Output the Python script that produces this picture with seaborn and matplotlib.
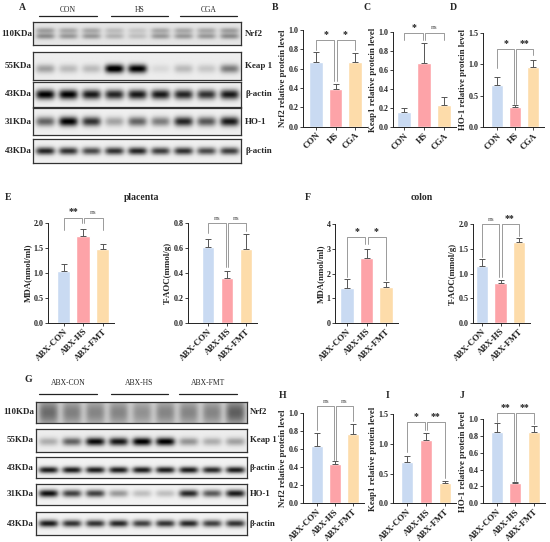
import numpy as np
import pandas as pd
import matplotlib.pyplot as plt
import seaborn as sns

W, H = 550, 542

# ---- bar chart data (mean, SEM) ----
top_groups = ['CON', 'HS', 'CGA']
abx_groups = ['ABX-CON', 'ABX-HS', 'ABX-FMT']

b_nrf2 = [0.67, 0.385, 0.67]
b_nrf2_err = [0.10, 0.055, 0.095]
c_keap1 = [0.157, 0.669, 0.233]
c_keap1_err = [0.05, 0.21, 0.08]
d_ho1 = [0.67, 0.317, 0.96]
d_ho1_err = [0.13, 0.033, 0.107]

e_mda = [1.05, 1.75, 1.49]
e_mda_err = [0.13, 0.13, 0.09]
e_taoc = [0.61, 0.36, 0.59]
e_taoc_err = [0.06, 0.06, 0.12]
f_mda = [1.40, 2.64, 1.44]
f_mda_err = [0.37, 0.34, 0.23]
f_taoc = [1.15, 0.80, 1.64]
f_taoc_err = [0.15, 0.07, 0.07]

h_nrf2 = [0.64, 0.437, 0.767]
h_nrf2_err = [0.145, 0.037, 0.113]
i_keap1 = [0.70, 1.06, 0.336]
i_keap1_err = [0.10, 0.12, 0.044]
j_ho1 = [0.85, 0.237, 0.84]
j_ho1_err = [0.10, 0.02, 0.077]

# significance brackets: (left bar, right bar, height, left leg end, right leg end, label)
b_sig = [(0, 1, 0.90, 0.79, 0.47, '*'), (1, 2, 0.90, 0.47, 0.79, '*')]
c_sig = [(0, 1, 0.99, 0.91, 0.91, '*'), (1, 2, 0.99, 0.91, 0.91, 'ns')]
d_sig = [(0, 1, 1.24, 0.94, 0.37, '*'), (1, 2, 1.24, 0.37, 1.15, '**')]
e_mda_sig = [(0, 1, 2.11, 1.86, 2.0, '**'), (1, 2, 2.11, 2.0, 1.86, 'ns')]
e_taoc_sig = [(0, 1, 0.80, 0.72, 0.45, 'ns'), (1, 2, 0.80, 0.45, 0.74, 'ns')]
f_mda_sig = [(0, 1, 3.46, 1.85, 3.2, '*'), (1, 2, 3.46, 3.2, 1.75, '*')]
f_taoc_sig = [(0, 1, 2.0, 1.34, 0.92, 'ns'), (1, 2, 2.0, 0.92, 1.75, '**')]
h_sig = [(0, 1, 1.08, 0.81, 0.48, 'ns'), (1, 2, 1.08, 0.48, 0.91, 'ns')]
i_sig = [(0, 1, 1.36, 0.87, 1.23, '*'), (1, 2, 1.36, 1.23, 0.42, '**')]
j_sig = [(0, 1, 1.067, 0.97, 0.27, '**'), (1, 2, 1.067, 0.27, 0.94, '**')]

# ---- western blot band intensities (9 lanes) ----
a_rows = ['Nrf2', 'Keap 1', 'β-actin', 'HO-1', 'β-actin']
a_kda = ['110KDa', '55KDa', '43KDa', '31KDa', '43KDa']
a_nrf2 = [0.35, 0.30, 0.30, 0.20, 0.15, 0.30, 0.30, 0.30, 0.35]
a_keap1 = [0.30, 0.20, 0.20, 1.00, 0.95, 0.08, 0.20, 0.15, 0.45]
a_actin1 = [0.95, 0.95, 0.85, 0.80, 0.85, 0.85, 0.80, 0.75, 0.85]
a_ho1 = [0.55, 0.95, 0.75, 0.30, 0.55, 0.45, 0.80, 0.60, 0.85]
a_actin2 = [0.80, 0.75, 0.65, 0.75, 0.80, 0.70, 0.75, 0.65, 0.70]

g_nrf2 = [0.40, 0.32, 0.30, 0.30, 0.25, 0.30, 0.30, 0.30, 0.45]
g_keap1 = [0.25, 0.55, 0.90, 0.85, 0.95, 0.95, 0.35, 0.25, 0.30]
g_actin1 = [0.85, 0.85, 0.85, 0.85, 0.85, 0.85, 0.85, 0.80, 0.85]
g_ho1 = [0.90, 0.70, 0.70, 0.35, 0.20, 0.20, 0.80, 0.60, 0.85]
g_actin2 = [0.85, 0.75, 0.75, 0.80, 0.70, 0.75, 0.80, 0.70, 0.75]

palette = ['#c9daf2', '#fda3a8', '#fddcaa']
SERIF = ['Liberation Serif', 'DejaVu Serif']

sns.set_style('ticks')
plt.rcParams['font.family'] = SERIF
plt.rcParams['font.weight'] = 'bold'

fig = plt.figure(figsize=(W / 100, H / 100), dpi=100)


def px_axes(l, t, r, b, **kw):
    return fig.add_axes([l / W, 1 - b / H, (r - l) / W, (b - t) / H], **kw)


# overlay axes in pixel coordinates for labels and decorations
ov = fig.add_axes([0, 0, 1, 1], zorder=-1)
ov.set_xlim(0, W)
ov.set_ylim(H, 0)
ov.axis('off')


def bar_panel(groups, vals, errs, sig, ylabel, ax_x, c0, sp, ytop, ybot,
              ymax, step, fmt):
    xl = -(c0 - ax_x) / sp
    xr = 2.6
    ax = px_axes(ax_x, ytop, ax_x + (xr - xl) * sp, ybot)
    ax.patch.set_alpha(0)
    df = pd.DataFrame({'group': groups, 'value': vals})
    sns.barplot(data=df, x='group', y='value', hue='group', palette=palette,
                legend=False, width=0.67, saturation=1, ax=ax)
    ax.errorbar(range(3), vals, yerr=[np.zeros(3), errs], fmt='none',
                ecolor='#555555', elinewidth=0.7, capsize=2.2, capthick=0.7)
    ax.set_xlim(xl, xr)
    ax.set_ylim(0, ymax)
    ticks = np.arange(0, ymax + step / 2, step)
    ax.set_yticks(ticks)
    ax.set_yticklabels([fmt % t for t in ticks], fontsize=5.8, fontweight='bold')
    ax.set_xticks(range(3))
    ax.set_xticklabels(groups, rotation=45, ha='right', rotation_mode='anchor',
                       fontsize=6.4, fontweight='bold')
    ax.set_xlabel('')
    ax.set_ylabel(ylabel, fontsize=6.4, fontweight='bold', labelpad=1)
    sns.despine(ax=ax)
    for s in ['left', 'bottom']:
        ax.spines[s].set_linewidth(0.7)
        ax.spines[s].set_color('#222222')
    ax.tick_params(length=2, width=0.6, pad=1.2, colors='#222222')
    for i, j, h, yi, yj, txt in sig:
        xi = i + 0.06 if i == 1 else i
        xj = j - 0.06 if j == 1 else j
        ax.plot([xi, xi, xj, xj], [yi, h, h, yj], color='#8a8a8a', lw=0.6,
                clip_on=False)
        if txt == 'ns':
            ax.text((i + j) / 2, h + 0.025 * ymax, txt, ha='center', va='bottom',
                    fontsize=5.3, fontweight='normal', color='#444444')
        else:
            ax.text((i + j) / 2, h + 0.01 * ymax, txt, ha='center', va='bottom',
                    fontsize=7, fontweight='bold', color='#222222')
    return ax


bar_panel(top_groups, b_nrf2, b_nrf2_err, b_sig, 'Nrf2 relative protein level',
          303, 316, 19.5, 30, 126.7, 1.0, 0.2, '%.1f')
bar_panel(top_groups, c_keap1, c_keap1_err, c_sig, 'Keap1 relative protein level',
          393, 404, 20, 31.7, 127.3, 1.0, 0.2, '%.1f')
bar_panel(top_groups, d_ho1, d_ho1_err, d_sig, 'HO-1 relative protein level',
          483, 497, 18, 32.7, 127.3, 1.5, 0.5, '%.1f')
bar_panel(abx_groups, e_mda, e_mda_err, e_mda_sig, 'MDA(nmol/ml)',
          48, 63.5, 19.5, 223, 323, 2.0, 0.5, '%.1f')
bar_panel(abx_groups, e_taoc, e_taoc_err, e_taoc_sig, 'T-AOC(mmol/g)',
          188, 208, 19, 223, 323, 0.8, 0.2, '%.1f')
bar_panel(abx_groups, f_mda, f_mda_err, f_mda_sig, 'MDA(nmol/ml)',
          335, 347, 19.5, 224, 323, 4, 1, '%d')
bar_panel(abx_groups, f_taoc, f_taoc_err, f_taoc_sig, 'T-AOC(mmol/g)',
          473, 482, 18.5, 224, 323, 2.0, 0.5, '%.1f')
bar_panel(abx_groups, h_nrf2, h_nrf2_err, h_sig, 'Nrf2 relative protein level',
          303, 316.7, 18, 413.3, 503.3, 1.0, 0.2, '%.1f')
bar_panel(abx_groups, i_keap1, i_keap1_err, i_sig, 'Keap1 relative protein level',
          393.3, 407, 19, 414, 503.3, 1.5, 0.5, '%.1f')
bar_panel(abx_groups, j_ho1, j_ho1_err, j_sig, 'HO-1 relative protein level',
          483, 496.7, 18.5, 419, 503.3, 1.0, 0.2, '%.1f')


# ---- blots ----
def draw_blot(l, t, r, b, lanes, cy, sy, bg, double=False):
    ax = px_axes(l, t, r, b)
    ny, nx = 40, 260
    yy = np.linspace(0, 1, ny)[:, None]
    xx = np.linspace(0, 1, nx)[None, :]
    lx = 0.058 + np.arange(9) * (0.889 / 8)
    img = np.full((ny, nx), bg)
    for k, inten in enumerate(lanes):
        colp = np.exp(-((xx - lx[k]) / 0.046) ** 4)
        rowp = np.exp(-((yy - cy) / sy) ** 2)
        if double:
            rowp = rowp + 0.8 * np.exp(-((yy - (cy - 0.25)) / sy) ** 2)
        img = img + inten * colp * rowp
    ax.imshow(np.clip(img, 0, 1), cmap='gray_r', vmin=0, vmax=1,
              aspect='auto', interpolation='bilinear')
    ax.set_xticks([])
    ax.set_yticks([])
    for s in ax.spines.values():
        s.set_linewidth(0.9)
        s.set_color('#333333')
    return ax


a_boxes = [(22, 45), (52, 80), (82, 107), (108, 135), (139, 163)]
a_data = [a_nrf2, a_keap1, a_actin1, a_ho1, a_actin2]
a_style = [(0.62, 0.13, 0.10, True), (0.6, 0.16, 0.07, False),
           (0.5, 0.2, 0.06, False), (0.5, 0.18, 0.06, False),
           (0.5, 0.16, 0.06, False)]
for (t, b), lanes, (cy, sy, bg, dbl), name, kda in zip(a_boxes, a_data, a_style,
                                                      a_rows, a_kda):
    draw_blot(33, t, 241, b, lanes, cy, sy, bg, dbl)
    ov.text(32, (t + b) / 2, kda, ha='right', va='center', fontsize=6.5,
            fontweight='bold')
    ov.text(245, (t + b) / 2, name, ha='left', va='center', fontsize=6.5,
            fontweight='bold')

g_boxes = [(402, 423), (429, 452), (457, 478), (484, 505), (512, 535)]
g_data = [g_nrf2, g_keap1, g_actin1, g_ho1, g_actin2]
g_style = [(0.5, 0.6, 0.18, False), (0.55, 0.18, 0.07, False),
           (0.62, 0.16, 0.05, False), (0.45, 0.18, 0.05, False),
           (0.5, 0.16, 0.05, False)]
for (t, b), lanes, (cy, sy, bg, dbl), name, kda in zip(g_boxes, g_data, g_style,
                                                      a_rows, a_kda):
    draw_blot(36, t, 247, b, lanes, cy, sy, bg, dbl)
    ov.text(34, (t + b) / 2, kda, ha='right', va='center', fontsize=6.5,
            fontweight='bold')
    ov.text(250, (t + b) / 2, name, ha='left', va='center', fontsize=6.3,
            fontweight='bold')

# group headers over blots
for name, x0, x1 in zip(top_groups, [39, 111, 180], [97, 168, 237]):
    ov.plot([x0, x1], [15.7, 15.7], color='#222222', lw=0.9)
    ov.text((x0 + x1) / 2, 10, name, ha='center', va='center', fontsize=5.5,
            fontweight='normal')
for name, x0, x1 in zip(abx_groups, [39, 111, 179], [97, 168, 237]):
    ov.plot([x0, x1], [394, 394], color='#222222', lw=0.9)
    ov.text((x0 + x1) / 2, 383, name, ha='center', va='center', fontsize=5.5,
            fontweight='normal')

# panel letters and titles
for letter, x, y in [('A', 22, 7), ('B', 275, 7), ('C', 367, 7), ('D', 453, 7),
                     ('E', 8, 197), ('F', 308, 197), ('G', 28, 380),
                     ('H', 283, 396), ('I', 388, 396), ('J', 462, 396)]:
    ov.text(x, y, letter, ha='center', va='center', fontsize=7,
            fontweight='bold')
ov.text(142, 197, 'placenta', ha='center', va='center', fontsize=7,
        fontweight='bold')
ov.text(422, 197, 'colon', ha='center', va='center', fontsize=7,
        fontweight='bold')

fig.savefig('out.png', dpi=100)
